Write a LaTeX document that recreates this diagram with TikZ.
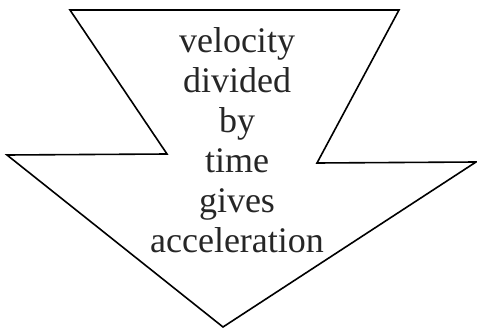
\documentclass[tikz,border=0pt]{standalone}
\usepackage{fontspec}
\setmainfont{Liberation Serif}
\begin{document}
\begin{tikzpicture}[x=1pt,y=-1pt,
  arrowshape/.style={draw=black,line width=1.6pt,line join=miter},
  label/.style={align=center,inner sep=0pt,anchor=north,font=\fontsize{36}{40}\selectfont,text=black!85}]
\useasboundingbox (0,0) rectangle (477,329);
\coordinate (tl) at (70,10);
\coordinate (tr) at (399,10);
\coordinate (rs) at (317,163);
\coordinate (rw) at (476,162);
\coordinate (tip) at (223,327);
\coordinate (lw) at (7,155);
\coordinate (ls) at (167,154);
\draw[arrowshape] (tl) -- (tr) -- (rs) -- (rw) -- (tip) -- (lw) -- (ls) -- cycle;
\node[label] (txt) at (237,27.4) {velocity\\divided\\by\\time\\gives\\acceleration};
\end{tikzpicture}
\end{document}
